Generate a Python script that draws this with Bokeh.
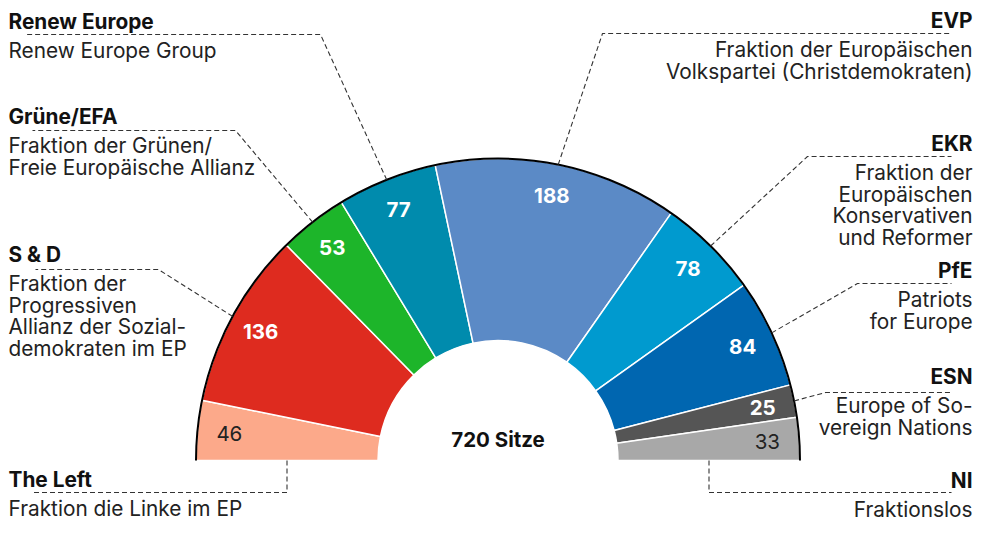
import numpy as np
from bokeh.plotting import figure
from bokeh.models import Range1d, ColumnDataSource
from bokeh.core.properties import value
from bokeh.embed import file_html
from bokeh.resources import INLINE

# ---------------- data ----------------
parties = ["The Left", "S & D", "Grüne/EFA", "Renew Europe", "EVP", "EKR", "PfE", "ESN", "NI"]
seats = [46, 136, 53, 77, 188, 78, 84, 25, 33]
descriptions = [
    ["Fraktion die Linke", "im EP"],
    ["Fraktion der", "Progressiven", "Allianz der Sozial-", "demokraten im EP"],
    ["Fraktion der Grünen/", "Freie Europäische Allianz"],
    ["Renew Europe Group"],
    ["Fraktion der Europäischen", "Volkspartei (Christdemokraten)"],
    ["Fraktion der", "Europäischen", "Konservativen", "und Reformer"],
    ["Patriots", "for Europe"],
    ["Europe of So-", "vereign Nations"],
    ["Fraktionslos"],
]
total_label = "Sitze"

# ---------------- style ----------------
colors = ["#fca98a", "#de2b1f", "#1db52a", "#008bad", "#5b8ac6", "#009acf", "#0066b0", "#555555", "#a8a8a8"]
dark_label = [True, False, False, False, False, False, False, False, True]
FONT = "Inter"
FS_LAB = "20.8px"
FS_NUM = "20.5px"
CAP_HALF = 7.5   # half cap height: texts are placed by their middle

W, H = 974, 522
def X(px):
    return px
def Y(py):
    return H - py

cx, cy = X(497.5), Y(460)
R_OUT, R_IN, R_LAB = 302, 120, 270
LEFT_X, RIGHT_X = 8, 972

# label layout (picture pixel coords): side, name baseline, elbow x, line y, line end x
layout = {
    "The Left":     ("left", 486, None, 492, 32),
    "S & D":        ("left", 261, 158, 269, 35),
    "Grüne/EFA":    ("left", 123, 235, 130, 32),
    "Renew Europe": ("left", 28, 320, 34, 25),
    "EVP":          ("right", 27, 602, 33, 951),
    "EKR":          ("right", 150, 807, 156, 951),
    "PfE":          ("right", 277, 857, 283, 951),
    "ESN":          ("right", 383, 825, 392, 951),
    "NI":           ("right", 487, None, 492, 951),
}
LINE_H = 21.5
DESC_GAP = 29.5

p = figure(width=W, height=H, x_range=Range1d(0, W), y_range=Range1d(0, H),
           output_backend="svg", toolbar_location=None, min_border=0,
           x_axis_location=None, y_axis_location=None)
p.outline_line_color = None
p.xgrid.visible = False
p.ygrid.visible = False
p.background_fill_color = "white"

total = sum(seats)
cum = np.concatenate([[0], np.cumsum(seats)])
start = np.pi * (1 - cum[1:] / total)
end = np.pi * (1 - cum[:-1] / total)
mid = (start + end) / 2

src = ColumnDataSource(dict(start=start, end=end, color=colors))
p.annular_wedge(x=cx, y=cy, inner_radius=R_IN, outer_radius=R_OUT,
                start_angle="start", end_angle="end", fill_color="color",
                line_color="white", line_width=1.5, source=src)
p.arc(x=cx, y=cy, radius=R_OUT, start_angle=0, end_angle=np.pi,
      line_color="black", line_width=2)

# seat numbers
lab = ColumnDataSource(dict(
    x=cx + R_LAB * np.cos(mid), y=cy + R_LAB * np.sin(mid),
    t=[str(s) for s in seats],
    c=["#222222" if d else "white" for d in dark_label],
    st=["normal" if d else "bold" for d in dark_label],
))
p.text(x="x", y="y", text="t", text_color="c", text_font_style="st",
       text_font=value(FONT), text_font_size=FS_NUM, text_align="center",
       text_baseline="middle", source=lab)

p.text(x=[cx], y=[Y(446 - CAP_HALF)], text=[f"{total} {total_label}"], text_font=value(FONT),
       text_font_size=FS_NUM, text_font_style="bold", text_align="center",
       text_baseline="middle", text_color="#111111")

# party labels and leader lines
xs, ys = [], []
for i, name in enumerate(parties):
    side, nb, ex, ey, lx = layout[name]
    tx = X(LEFT_X) if side == "left" else X(RIGHT_X)
    al = "left" if side == "left" else "right"
    p.text(x=[tx], y=[Y(nb - CAP_HALF)], text=[name], text_font=value(FONT), text_font_size=FS_LAB,
           text_font_style="bold", text_align=al, text_baseline="middle",
           text_color="#111111")
    lines = list(descriptions[i])
    # wrap lines together if the block would run past the bottom of the canvas
    if nb + DESC_GAP + (len(lines) - 1) * LINE_H > H - 4:
        lines = [" ".join(lines)]
    for k, line in enumerate(lines):
        p.text(x=[tx], y=[Y(nb + DESC_GAP + k * LINE_H - CAP_HALF)], text=[line],
               text_font=value(FONT), text_font_size=FS_LAB, text_align=al,
               text_baseline="middle", text_color="#222222")
    if ex is None:
        # from the base of the ring, at its middle radius
        r_mid = (R_IN + R_OUT) / 2
        sx = cx - r_mid if side == "left" else cx + r_mid
        xs.append([sx, sx, X(lx)])
        ys.append([cy, Y(ey), Y(ey)])
    else:
        sx = cx + R_OUT * np.cos(mid[i])
        sy = cy + R_OUT * np.sin(mid[i])
        xs.append([sx, X(ex), X(lx)])
        ys.append([sy, Y(ey), Y(ey)])

p.multi_line(xs=xs, ys=ys, line_color="#333333", line_width=1.1, line_dash="5 3")

open("out.html", "w").write(file_html(p, INLINE))
